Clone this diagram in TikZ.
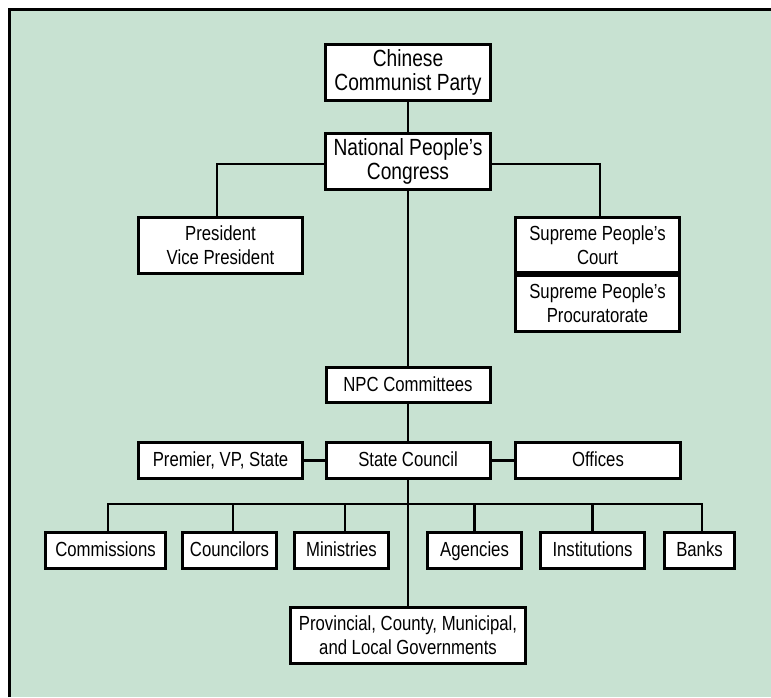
\documentclass[tikz,border=0pt]{standalone}
\usepackage{fontspec}
\setmainfont[FakeStretch=0.82]{Liberation Sans}
\definecolor{bg}{RGB}{200,226,210}
\begin{document}
\begin{tikzpicture}[x=1pt,y=-1pt,
  box/.style={draw,line width=3pt,fill=white,inner sep=0pt,align=center,
    font=\fontsize{20.4}{24}\selectfont},
  big/.style={font=\fontsize{23.4}{24.6}\selectfont},
  one/.style={text height=15.6pt,text depth=3.4pt},
  link/.style={line width=2.8pt}]
\useasboundingbox (0,0) rectangle (771,697);
\fill[bg] (9,9) rectangle (771,697);
\draw[line width=2.6pt] (9.3,697) -- (9.3,9.3) -- (771,9.3);

\node[box,big,minimum width=165pt,minimum height=56pt] (ccp) at (408,72.5) {Chinese\\Communist Party};
\node[box,big,minimum width=165pt,minimum height=56pt] (npc) at (408,161.5) {National People’s\\Congress};
\node[box,minimum width=164pt,minimum height=56pt] (pres) at (220.5,245.5) {President\\Vice President};
\node[box,minimum width=164pt,minimum height=55pt] (court) at (597.5,245) {Supreme People’s\\Court};
\node[box,minimum width=164pt,minimum height=56pt] (proc) at (597.5,303.5) {Supreme People’s\\Procuratorate};
\node[box,one,minimum width=164pt,minimum height=35pt] (npcc) at (408,385) {NPC Committees};
\node[box,one,minimum width=164pt,minimum height=36pt] (prem) at (220.5,460.5) {Premier, VP, State};
\node[box,one,minimum width=164pt,minimum height=36pt] (sc) at (408,460.5) {State Council};
\node[box,one,minimum width=165pt,minimum height=36pt] (off) at (598,460.5) {Offices};
\node[box,one,minimum width=120pt,minimum height=36pt] (comm) at (105.5,550.5) {Commissions};
\node[box,one,minimum width=94pt,minimum height=36pt] (counc) at (229.5,550.5) {Councilors};
\node[box,one,minimum width=94pt,minimum height=36pt] (mins) at (341.5,550.5) {Ministries};
\node[box,one,minimum width=94pt,minimum height=36pt] (ag) at (474.5,550.5) {Agencies};
\node[box,one,minimum width=104pt,minimum height=36pt] (inst) at (592.5,550.5) {Institutions};
\node[box,one,minimum width=70pt,minimum height=36pt] (banks) at (699.5,550.5) {Banks};
\node[box,minimum width=235pt,minimum height=56pt] (prov) at (408,635.5) {Provincial, County, Municipal,\\and Local Governments};

\coordinate (bus) at (408,504);
\draw[link] (ccp) -- (npc);
\draw[link] ([yshift=-2.5pt]npc.west) -| ([xshift=-3.5pt]pres.north);
\draw[link] ([yshift=-2.5pt]npc.east) -| ([xshift=2.5pt]court.north);
\draw[link] (npc) -- (npcc);
\draw[link] (npcc) -- (sc);
\draw[link] (sc) -- (prem);
\draw[link] (sc) -- (off);
\draw[link] (sc) -- (prov);
\draw[link] ([xshift=2.5pt]comm.north) |- (bus) -| ([xshift=2.5pt]banks.north);
\draw[link] ([xshift=3.5pt]counc.north) -- ([xshift=3.5pt]counc.north |- bus);
\draw[link] ([xshift=3.5pt]mins.north) -- ([xshift=3.5pt]mins.north |- bus);
\draw[link] (ag.north) -- (ag.north |- bus);
\draw[link] (inst.north) -- (inst.north |- bus);
\end{tikzpicture}
\end{document}
